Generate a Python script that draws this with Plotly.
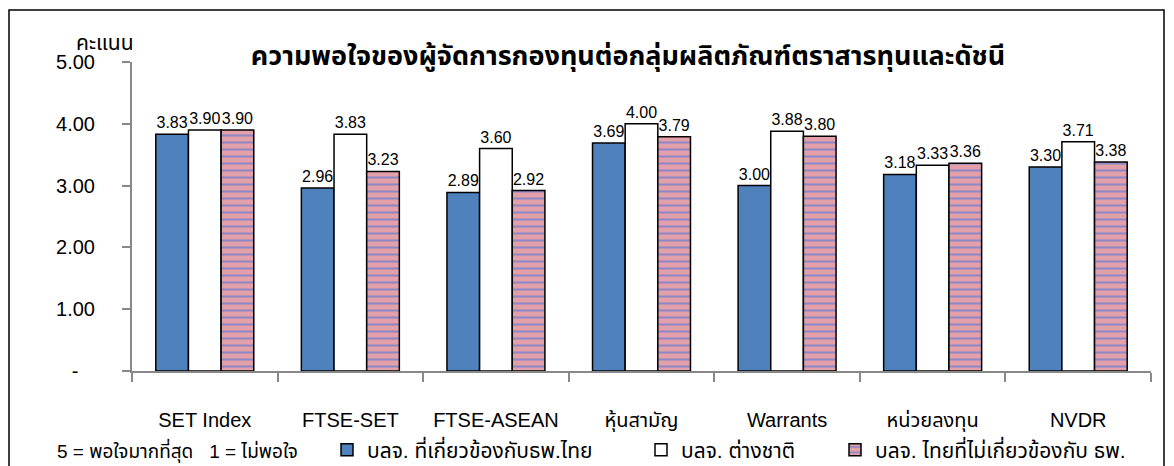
import plotly.graph_objects as go

categories = ["SET Index", "FTSE-SET", "FTSE-ASEAN", "หุ้นสามัญ", "Warrants", "หน่วยลงทุน", "NVDR"]
series_names = ["บลจ. ที่เกี่ยวข้องกับธพ.ไทย", "บลจ. ต่างชาติ", "บลจ. ไทยที่ไม่เกี่ยวข้องกับ ธพ."]
thai_bank = [3.83, 2.96, 2.89, 3.69, 3.00, 3.18, 3.30]
foreign = [3.90, 3.83, 3.60, 4.00, 3.88, 3.33, 3.71]
thai_nonbank = [3.90, 3.23, 2.92, 3.79, 3.80, 3.36, 3.38]
y_tickvals = [0, 1, 2, 3, 4, 5]
y_ticktext = ["-\u00a0\u00a0\u00a0", "1.00", "2.00", "3.00", "4.00", "5.00"]

FONT = "Arial, 'Liberation Sans', 'Noto Sans Thai', 'Noto Sans', sans-serif"

# The page body has an 8px default margin; positions below are given in
# screen pixels. The figure fills the rest of the window (scrollbars hidden).
OFF = 8
FIG_W, FIG_H = 1174 - OFF, 466 - OFF
PLOT_L, PLOT_R, PLOT_T, PLOT_B = 132, 1151, 62, 371   # screen pixels
W = PLOT_R - PLOT_L
H = PLOT_B - PLOT_T


def px(x):
    return (x - PLOT_L) / W


def py(y):
    return (PLOT_B - y) / H


fig = go.Figure()
fig.add_trace(go.Bar(
    x=categories, y=thai_bank, name=series_names[0], legend="legend", showlegend=True,
    marker=dict(color="#4F81BD", line=dict(color="#000000", width=1.5)),
    text=[f"{v:.2f}" for v in thai_bank], textposition="outside",
    textfont=dict(size=16, color="#000"), constraintext="none", cliponaxis=False,
))
fig.add_trace(go.Bar(
    x=categories, y=foreign, name=series_names[1], legend="legend2", showlegend=True,
    marker=dict(color="#FFFFFF", line=dict(color="#000000", width=1.5)),
    text=[f"{v:.2f}" for v in foreign], textposition="outside",
    textfont=dict(size=16, color="#000"), constraintext="none", cliponaxis=False,
))
fig.add_trace(go.Bar(
    x=categories, y=thai_nonbank, name=series_names[2], legend="legend3", showlegend=True,
    marker=dict(color="#E3A0A8", line=dict(color="#000000", width=1.5),
                pattern=dict(shape="-", fgcolor="#3D6FE0", bgcolor="#E3A0A8",
                             size=7, solidity=0.3)),
    text=[f"{v:.2f}" for v in thai_nonbank], textposition="outside",
    textfont=dict(size=16, color="#000"), constraintext="none", cliponaxis=False,
))

legend_common = dict(orientation="h", yanchor="middle", y=py(450), xanchor="left",
                     font=dict(size=21, family=FONT, color="#000"),
                     bgcolor="rgba(0,0,0,0)", itemwidth=30)

fig.update_layout(
    width=FIG_W, height=FIG_H,
    margin=dict(l=PLOT_L - OFF, r=FIG_W - (PLOT_R - OFF), t=PLOT_T - OFF,
                b=FIG_H - (PLOT_B - OFF), autoexpand=False),
    paper_bgcolor="white", plot_bgcolor="white",
    showlegend=True,
    barmode="group", bargap=0.327, bargroupgap=0,
    font=dict(family=FONT, color="#000"),
    title=dict(text="<b>ความพอใจของผู้จัดการกองทุนต่อกลุ่มผลิตภัณฑ์ตราสารทุนและดัชนี</b>",
               x=px(628), xref="paper", xanchor="center",
               y=1 - (56 - OFF) / FIG_H, yref="container", yanchor="middle",
               font=dict(size=27, family=FONT, color="#000")),
    xaxis=dict(showline=True, linecolor="#888888", linewidth=2,
               ticks="outside", tickson="boundaries", ticklen=9, tickcolor="#888888", tickwidth=2,
               tickfont=dict(size=20, family=FONT, color="#000"), ticklabelstandoff=30,
               showgrid=False, zeroline=False),
    yaxis=dict(range=[0, 5], tickvals=y_tickvals, ticktext=y_ticktext,
               showline=True, linecolor="#888888", linewidth=2,
               ticks="outside", ticklen=8, tickcolor="#888888", tickwidth=2,
               tickfont=dict(size=20, family=FONT, color="#000"), ticklabelstandoff=23,
               showgrid=False, zeroline=False),
    legend=dict(legend_common, x=px(327)),
    legend2=dict(legend_common, x=px(641)),
    legend3=dict(legend_common, x=px(835)),
    shapes=[dict(type="rect", xref="paper", yref="paper",
                 x0=px(9), x1=px(1164), y0=py(480), y1=py(10),
                 line=dict(color="#000", width=1.5), fillcolor="rgba(0,0,0,0)", layer="below")],
    annotations=[
        dict(text="คะแนน", xref="paper", yref="paper", x=px(105), y=py(43),
             xanchor="center", yanchor="middle", showarrow=False,
             font=dict(size=21, family=FONT, color="#000")),
        dict(text="5 = พอใจมากที่สุด\u00a0\u00a0\u00a01 = ไม่พอใจ", xref="paper", yref="paper",
             x=px(55), y=py(450), xanchor="left", yanchor="middle", showarrow=False,
             font=dict(size=19, family=FONT, color="#000")),
    ],
)

fig.write_html(
    "out.html",
    post_script="document.documentElement.style.overflow='hidden';document.body.style.overflow='hidden';",
)
